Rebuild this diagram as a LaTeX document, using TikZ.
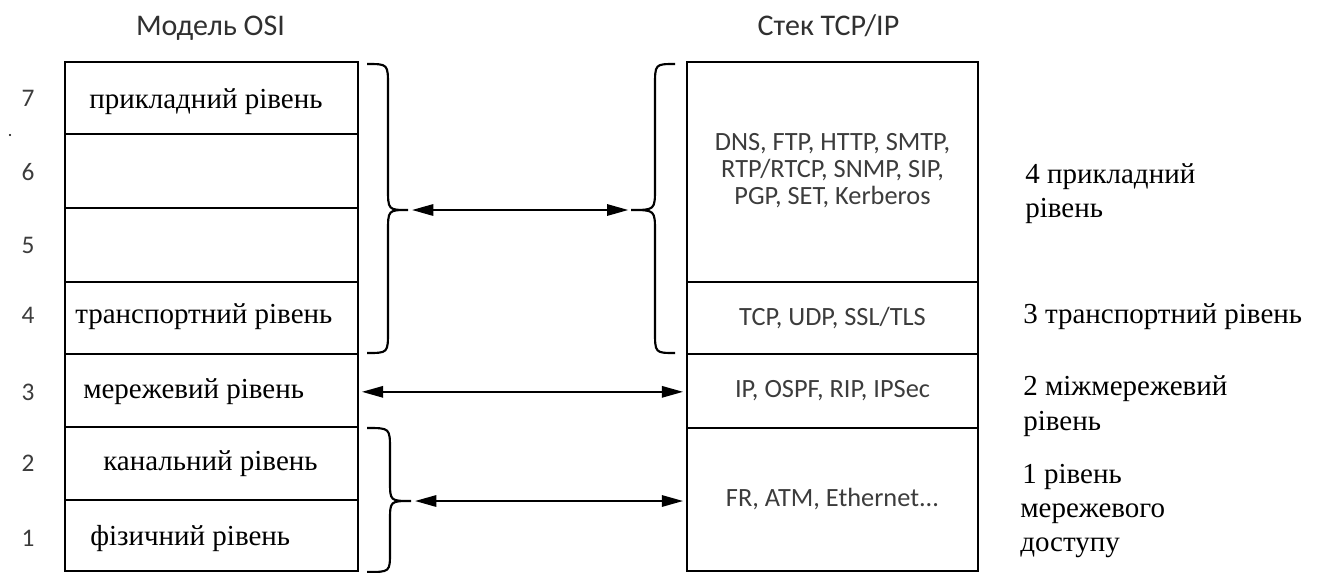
\documentclass[tikz,border=0pt]{standalone}
\usepackage{fontspec}
\setmainfont{Liberation Serif}
\newfontfamily\sansf{Carlito}
\usetikzlibrary{arrows.meta}
\definecolor{sanscol}{RGB}{60,60,60}
\tikzset{
  lrow/.style={draw, line width=1.8pt, minimum width=219.75pt, inner sep=0pt},
  rrow/.style={draw, line width=1.8pt, minimum width=218.25pt, inner sep=0pt,
    font=\sansf\fontsize{19.75}{20.5}\selectfont, text=sanscol, align=center},
  slabel/.style={anchor=base west, inner sep=0pt, font=\fontsize{21.75}{26}\selectfont},
  num/.style={inner sep=0pt, font=\sansf\fontsize{19}{21}\selectfont, text=sanscol},
  title/.style={anchor=base, inner sep=0pt, font=\sansf\fontsize{22.5}{26}\selectfont, text=sanscol!80!black},
  brace/.style={line width=1.6pt},
  arr/.style={line width=1.6pt, {Triangle[length=16pt,width=8.5pt]}-{Triangle[length=16pt,width=8.5pt]}}
}
\begin{document}
\begin{tikzpicture}[x=0.75pt,y=-0.75pt]
\useasboundingbox (0,0) rectangle (1322,572);

% titles
\node[title] (tosi) at (210.5,35) {Модель OSI};
\node[title] (ttcp) at (828.5,35) {Стек TCP/IP};

% OSI column
\node[lrow, minimum height=54pt]    (L7) at (211.5,98) {};
\node[lrow, minimum height=55.5pt]  (L6) at (211.5,171) {};
\node[lrow, minimum height=55.5pt]  (L5) at (211.5,245) {};
\node[lrow, minimum height=54pt]    (L4) at (211.5,318) {};
\node[lrow, minimum height=54.75pt] (L3) at (211.5,390.5) {};
\node[lrow, minimum height=54.75pt] (L2) at (211.5,463.5) {};
\node[lrow, minimum height=53.25pt] (L1) at (211.5,535.5) {};

\node[slabel] (t7) at (89,108) {прикладний рівень};
\node[slabel] (t4) at (75,323) {транспортний рівень};
\node[slabel] (t3) at (83,398) {мережевий рівень};
\node[slabel] (t2) at (103,470) {канальний рівень};
\node[slabel] (t1) at (90,545) {фізичний рівень};

% layer numbers
\node[num] (n7) at (28,98) {7};
\node[num] (n6) at (28,172) {6};
\node[num] (n5) at (28,245) {5};
\node[num] (n4) at (28,315) {4};
\node[num] (n3) at (28,392) {3};
\node[num] (n2) at (28,463) {2};
\node[num] (n1) at (28,538) {1};
\fill (10,135) circle (1.2);

% TCP/IP column
\node[rrow, minimum height=165pt]    (R4) at (832.5,172) {\raisebox{-3pt}{\begin{tabular}{@{}c@{}}DNS, FTP, HTTP, SMTP,\\RTP/RTCP, SNMP, SIP,\\PGP, SET, Kerberos\end{tabular}}};
\node[rrow, minimum height=54pt]     (R3) at (832.5,318) {TCP, UDP, SSL/TLS};
\node[rrow, minimum height=55.5pt]   (R2) at (832.5,391) {IP, OSPF, RIP, IPSec};
\node[rrow, minimum height=107.25pt] (R1) at (832.5,499.5) {FR, ATM, Ethernet...};

% right-side labels
\node[slabel] (a4a) at (1025,183) {4 прикладний};
\node[slabel] (a4b) at (1025,217) {рівень};
\node[slabel] (a3)  at (1023,323) {3 транспортний рівень};
\node[slabel] (a2a) at (1023,395) {2 міжмережевий};
\node[slabel] (a2b) at (1023,430) {рівень};
\node[slabel] (a1a) at (1022,483) {1 рівень};
\node[slabel] (a1b) at (1020,517) {мережевого};
\node[slabel] (a1c) at (1020,551) {доступу};

% braces
\coordinate (bt1) at (408,210);
\coordinate (bt2) at (631,210);
\coordinate (bt3) at (411,501);
\draw[brace] (367,64) .. controls (388,64) .. (388,86) -- (388,188)
  .. controls (388,210) .. (bt1) .. controls (388,210) .. (388,232)
  -- (388,331) .. controls (388,353) .. (367,353);
\draw[brace] (675,64) .. controls (655,64) .. (655,86) -- (655,188)
  .. controls (655,210) .. (bt2) .. controls (655,210) .. (655,232)
  -- (655,331) .. controls (655,353) .. (675,353);
\draw[brace] (367,428) .. controls (390,428) .. (390,450) -- (390,481)
  .. controls (390,501) .. (bt3) .. controls (390,501) .. (390,521)
  -- (390,552) .. controls (390,572) .. (367,572);

% arrows
\draw[arr, shorten <=3pt, shorten >=2pt] (bt1) -- (bt2);
\draw[arr, shorten <=2pt, shorten >=2pt] ([yshift=-1pt]L3.east) -- ([yshift=-1pt]L3.east -| R2.west);
\draw[arr, shorten <=3pt, shorten >=2pt] (bt3) -- (bt3 -| R1.west);
\end{tikzpicture}
\end{document}
